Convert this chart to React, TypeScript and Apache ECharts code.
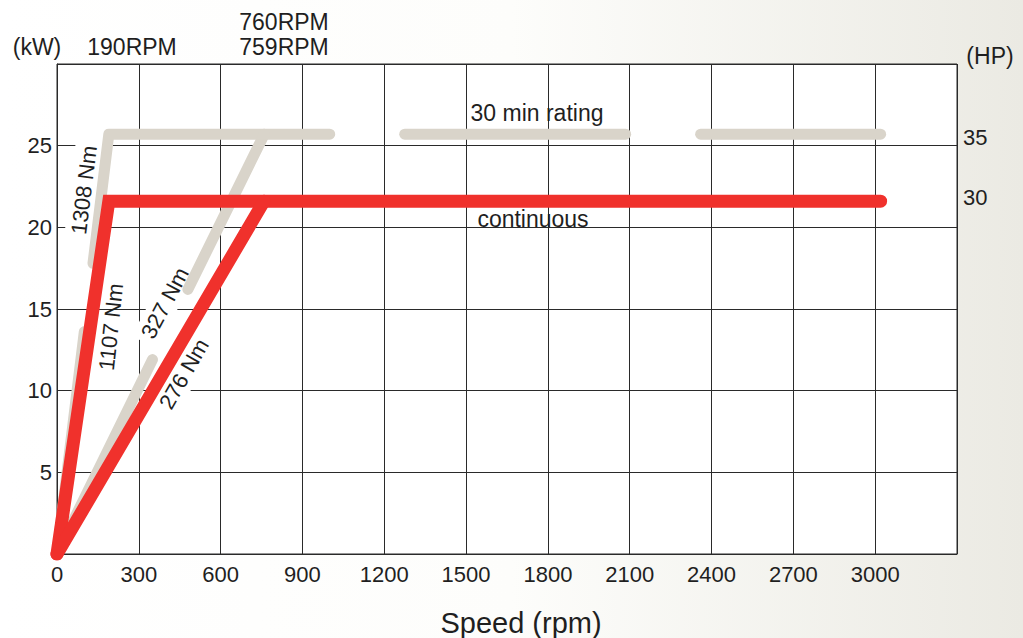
import React, { useEffect, useRef } from "react";
import * as echarts from "echarts";

// ---- axis ticks ----
const xTicks = [0, 300, 600, 900, 1200, 1500, 1800, 2100, 2400, 2700, 3000];
const yTicks = [5, 10, 15, 20, 25];
const hpTicks = [30, 35];

// ---- 30 min rating (grey), kW vs rpm; gaps where labels knock the line out ----
const rating30Torque1308Low = [[0, 0], [100, 13.6]];
const rating30Torque1308High = [[132, 17.8], [190, 25.7], [1000, 25.7]];
const rating30Mid = [[1275, 25.7], [2085, 25.7]];
const rating30End = [[2360, 25.7], [3020, 25.7]];
const rating30Torque327Low = [[0, 0], [350, 11.9]];
const rating30Torque327High = [[480, 16.2], [760, 25.7]];

// ---- continuous (red) ----
const continuousTorque1107 = [[0, 0], [190, 21.6], [3020, 21.6]];
const continuousTorque276 = [[0, 0], [759, 21.6]];

const FONT = "'Liberation Sans', Arial, Helvetica, sans-serif";
const TXT = "#1f1f1f";
const RED = "#f0312c";
const GREY = "#d9d4ca";

const deg = (d: number) => (d * Math.PI) / 180;

function greySeries(data: number[][]) {
  return {
    type: "line",
    data,
    symbol: "none",
    silent: true,
    z: 2,
    lineStyle: { color: GREY, width: 11, cap: "round", join: "round" },
  };
}
function redSeries(data: number[][]) {
  return {
    type: "line",
    data,
    symbol: "none",
    silent: true,
    z: 3,
    lineStyle: { color: RED, width: 13, cap: "round", join: "miter" },
  };
}

function label(text: string, x: number, y: number, size: number, rot = 0, bg = false) {
  return {
    type: "text",
    x,
    y,
    rotation: deg(rot),
    z: 1,
    silent: true,
    style: {
      text,
      fill: TXT,
      font: `${size}px ${FONT}`,
      align: "center",
      verticalAlign: "middle",
      backgroundColor: bg ? "#ffffff" : undefined,
      padding: bg ? [3, 6] : 0,
    },
  };
}

export default function App() {
  const ref = useRef<HTMLDivElement>(null);
  useEffect(() => {
    if (!ref.current) return;
    const chart = echarts.init(ref.current, null, { renderer: "svg" });
    chart.setOption({
      animation: false,
      backgroundColor: new echarts.graphic.LinearGradient(0, 0, 1, 0, [
        { offset: 0, color: "#ffffff" },
        { offset: 0.5, color: "#fdfdfb" },
        { offset: 1, color: "#ebeae3" },
      ]),
      textStyle: { fontFamily: FONT },
      grid: {
        left: 57,
        right: 66,
        top: 64,
        bottom: 84,
        show: true,
        backgroundColor: "#ffffff",
        borderColor: "#2a2a2a",
        borderWidth: 1,
      },
      xAxis: {
        type: "value",
        min: 0,
        max: 3300,
        interval: 300,
        axisLine: { show: true, lineStyle: { color: "#2a2a2a", width: 1 } },
        axisTick: { show: false },
        splitLine: { show: true, lineStyle: { color: "#2a2a2a", width: 1 } },
        axisLabel: {
          customValues: xTicks,
          formatter: (v: number) => String(v),
          color: TXT,
          fontSize: 22,
          fontFamily: FONT,
          margin: 9,
        },
      },
      yAxis: [
        {
          type: "value",
          min: 0,
          max: 30,
          interval: 5,
          axisLine: { show: true, lineStyle: { color: "#2a2a2a", width: 1 } },
          axisTick: { show: false },
          splitLine: { show: true, lineStyle: { color: "#2a2a2a", width: 1 } },
          axisLabel: {
            customValues: yTicks,
            formatter: (v: number) => String(v),
            color: TXT,
            fontSize: 22,
            fontFamily: FONT,
            margin: 5,
          },
        },
        {
          type: "value",
          position: "right",
          min: 0,
          max: 41.2,
          axisLine: { show: false },
          axisTick: { show: false },
          splitLine: { show: false },
          axisLabel: {
            customValues: hpTicks,
            formatter: (v: number) => String(v),
            color: TXT,
            fontSize: 22,
            fontFamily: FONT,
            margin: 6,
          },
        },
      ],
      series: [
        greySeries(rating30Torque1308Low),
        greySeries(rating30Torque1308High),
        greySeries(rating30Mid),
        greySeries(rating30End),
        greySeries(rating30Torque327Low),
        greySeries(rating30Torque327High),
        redSeries(continuousTorque1107),
        redSeries(continuousTorque276),
      ],
      graphic: [
        label("(kW)", 37, 47, 23),
        label("(HP)", 990, 56, 23),
        label("190RPM", 132, 47, 23),
        label("760RPM", 284, 22, 23),
        label("759RPM", 284, 47, 23),
        label("30 min rating", 537, 113, 23),
        label("continuous", 533, 219, 23),
        label("Speed (rpm)", 521, 623, 29),
        label("1308 Nm", 84, 190, 22, 83, true),
        label("1107 Nm", 111, 327, 22, 84, false),
        label("327 Nm", 165, 303, 22, 62, true),
        label("276 Nm", 184, 374, 22, 60, true),
      ],
    });
    return () => chart.dispose();
  }, []);
  return (
    <div
      ref={ref}
      style={{ position: "fixed", left: 0, top: 0, width: 1023, height: 638 }}
    />
  );
}
